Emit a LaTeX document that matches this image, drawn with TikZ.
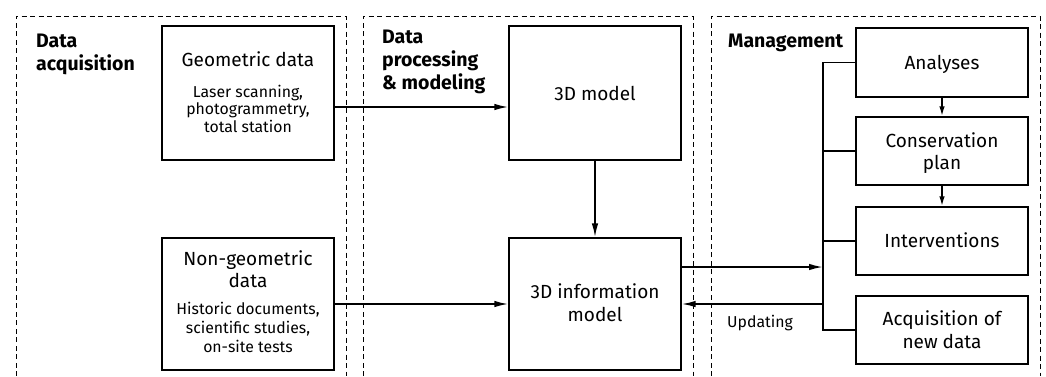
\documentclass[tikz,border=0pt]{standalone}
\usepackage{fontspec}
\setmainfont{Fira Sans}
\usetikzlibrary{arrows.meta}

\tikzset{
  panel/.style={draw, line width=0.95pt, dash pattern=on 5pt off 3.5pt},
  box/.style={draw, line width=1.3pt, minimum width=172pt, inner sep=0pt},
  bigbox/.style={box, minimum height=134pt},
  smallbox/.style={box, minimum height=68pt},
  ttl/.style={anchor=base, inner sep=0pt, font=\fontsize{19}{22}\selectfont},
  sub/.style={anchor=base, inner sep=0pt, font=\fontsize{15.8}{18}\selectfont},
  head/.style={anchor=base west, inner sep=0pt, font=\fontsize{19.5}{22}\selectfont\bfseries},
  arr/.style={line width=1.7pt, -{Latex[length=14pt,width=6.5pt]}},
  arrs/.style={line width=1.7pt, -{Latex[length=10pt,width=5.5pt]}},
  bus/.style={line width=1.8pt},
}

\begin{document}
\begin{tikzpicture}[x=1pt, y=-1pt]
\useasboundingbox (0,0) rectangle (1046,376);

% stage frames, open at the bottom
\draw[panel] (16,376) -- (16,16) -- (346,16) -- (346,376);
\draw[panel] (363,376) -- (363,16) -- (693,16) -- (693,376);
\draw[panel] (711,376) -- (711,16) -- (1040,16) -- (1040,376);

% stage headings
\node[head] (h1a) at (36,47) {Data};
\node[head] (h1b) at (36,70) {acquisition};
\node[head] (h2a) at (382,43) {Data};
\node[head] (h2b) at (382,66) {processing};
\node[head] (h2c) at (382,89) {\& modeling};
\node[head] (h3) at (728,47) {Management};

% data acquisition
\node[bigbox] (geo) at (248,93) {};
\node[ttl] (geoT) at (248,66) {Geometric data};
\node[sub] (geoS1) at (248,97) {Laser scanning,};
\node[sub] (geoS2) at (248,114.5) {photogrammetry,};
\node[sub] (geoS3) at (248,132) {total station};

\node[box, minimum height=132pt] (ngeo) at (248,304) {};
\node[ttl] (ngeoT1) at (248,265) {Non-geometric};
\node[ttl] (ngeoT2) at (248,287) {data};
\node[sub] (ngeoS1) at (248,314) {Historic documents,};
\node[sub] (ngeoS2) at (248,333) {scientific studies,};
\node[sub] (ngeoS3) at (248,352) {on-site tests};

% processing and modeling
\node[bigbox] (model) at (595,93) {};
\node[ttl] (modelT) at (595,100) {3D model};

\node[box, minimum height=132pt] (info) at (595,304) {};
\node[ttl] (infoT1) at (595,298) {3D information};
\node[ttl] (infoT2) at (595,321) {model};

% management
\node[smallbox, minimum height=69pt] (ana) at (942,62.5) {};
\node[ttl] (anaT) at (942,69) {Analyses};
\node[smallbox] (con) at (942,151) {};
\node[ttl] (conT1) at (942,147) {Conservation};
\node[ttl] (conT2) at (942,169) {plan};
\node[smallbox] (intv) at (942,241) {};
\node[ttl] (intvT) at (942,247.5) {Interventions};
\node[smallbox] (acq) at (942,330) {};
\node[ttl] (acqT1) at (942,325) {Acquisition of};
\node[ttl] (acqT2) at (942,348) {new data};

% flows between stages
\draw[arr] ([yshift=-14pt]geo.east) -- ([yshift=-14pt]model.west);
\draw[arr] (ngeo) -- (info);
\draw[arr] (model) -- (info);

% management bus
\coordinate (busTop) at (823,62.5);
\coordinate (busBot) at (823,330);
\draw[bus] (ana.west) -- (busTop) -- (busBot) -- (acq.west);
\draw[bus] (con.west) -- (con.west -| busTop);
\draw[bus] (intv.west) -- (intv.west -| busTop);

\coordinate (outL) at ([yshift=37pt]info.east);
\draw[arr] (outL) -- (outL -| busTop);
\draw[arr] (info.east -| busTop) -- (info.east);
\node[sub, anchor=base west] (upd) at (727,327) {Updating};

\draw[arrs] (ana) -- (con);
\draw[arrs] (con) -- (intv);
\end{tikzpicture}
\end{document}
